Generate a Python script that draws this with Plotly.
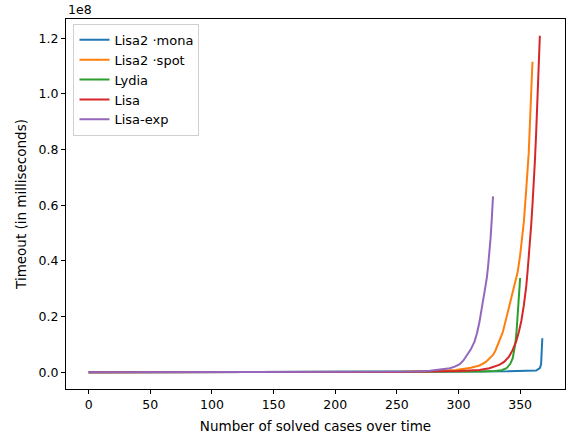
import plotly.graph_objects as go

# values in units of 1e8 milliseconds
mona_x = [0, 100, 200, 300, 340, 355, 363, 366, 367, 368]
mona_y = [0.0, 0.0, 0.0, 0.002, 0.003, 0.004, 0.006, 0.015, 0.028, 0.122]

spot_x = [0, 150, 250, 280, 298, 310, 317, 322, 325, 328, 330, 332, 334, 336, 338, 340,
          342, 344, 346, 348, 350, 352, 353, 355, 356, 357, 358, 359, 360]
spot_y = [0.0, 0.0, 0.001, 0.003, 0.008, 0.016, 0.024, 0.036, 0.048, 0.062, 0.078, 0.1, 0.122,
          0.145, 0.18, 0.215, 0.245, 0.28, 0.315, 0.36, 0.42, 0.5, 0.54, 0.66, 0.72, 0.79,
          0.9, 1.0, 1.116]

lydia_x = [0, 150, 250, 300, 320, 330, 335, 339, 342, 344, 345, 346, 347, 348, 349, 350]
lydia_y = [0.0, 0.0, 0.0, 0.001, 0.002, 0.004, 0.007, 0.014, 0.03, 0.05, 0.07, 0.1, 0.14,
           0.21, 0.28, 0.3385]

lisa_x = [0, 150, 250, 300, 317, 325, 333, 337, 341, 344, 347, 349, 351, 353, 354, 355, 356,
          357, 358, 359, 360, 361, 362, 363, 364, 365, 366]
lisa_y = [0.0, 0.0, 0.001, 0.004, 0.008, 0.014, 0.026, 0.037, 0.056, 0.08, 0.113, 0.145,
          0.185, 0.24, 0.27, 0.31, 0.36, 0.41, 0.47, 0.53, 0.6, 0.67, 0.76, 0.86, 0.98, 1.09,
          1.209]

exp_x = [0, 150, 250, 265, 277, 285, 293, 297, 301, 304, 307, 310, 313, 315, 317, 319, 320,
         321, 322, 323, 324, 325, 326, 327, 328]
exp_y = [0.0, 0.0, 0.001, 0.002, 0.005, 0.009, 0.014, 0.02, 0.029, 0.042, 0.06, 0.082, 0.11,
         0.14, 0.18, 0.225, 0.26, 0.285, 0.31, 0.34, 0.38, 0.42, 0.48, 0.55, 0.632]

names = ["Lisa2 \u00b7mona", "Lisa2 \u00b7spot", "Lydia", "Lisa", "Lisa-exp"]
colors = ["#1f77b4", "#ff7f0e", "#2ca02c", "#d62728", "#9467bd"]
series = [(mona_x, mona_y), (spot_x, spot_y), (lydia_x, lydia_y), (lisa_x, lisa_y), (exp_x, exp_y)]

x_ticks = [0, 50, 100, 150, 200, 250, 300, 350]
y_ticks = [0.0, 0.2, 0.4, 0.6, 0.8, 1.0, 1.2]

fig = go.Figure()
for (xs, ys), n, c in zip(series, names, colors):
    fig.add_trace(go.Scatter(x=xs, y=ys, mode="lines", name=n,
                             line=dict(color=c, width=2)))

tick_font = dict(family="DejaVu Sans", size=12.5, color="#000")
title_font = dict(family="DejaVu Sans", size=13.5, color="#000")
axis_common = dict(showline=True, linecolor="#000", linewidth=1, mirror=True,
                   ticks="outside", ticklen=4, tickwidth=1, tickcolor="#000",
                   showgrid=False, zeroline=False, tickfont=tick_font, automargin=False)

fig.update_layout(
    width=570, height=439,
    margin=dict(l=66, r=5, t=19, b=50),
    paper_bgcolor="white", plot_bgcolor="white",
    font=tick_font,
    xaxis=dict(range=[-18.4, 386.4], tickvals=x_ticks,
               title=dict(text="Number of solved cases over time", font=title_font, standoff=10),
               **axis_common),
    yaxis=dict(range=[-0.0605, 1.2695], tickvals=y_ticks, tickformat=".1f",
               title=dict(text="Timeout (in milliseconds)", font=title_font, standoff=8),
               **axis_common),
    legend=dict(x=0.015, y=0.987, xanchor="left", yanchor="top",
                bgcolor="rgba(255,255,255,0.8)", bordercolor="#d0d0d0", borderwidth=1,
                font=dict(family="DejaVu Sans", size=13, color="#000"),
                itemwidth=30, tracegroupgap=0),
    showlegend=True,
)
fig.add_annotation(text="1e8", xref="paper", yref="paper", x=0, y=1, xanchor="left",
                   yanchor="bottom", showarrow=False, font=tick_font, yshift=0)

fig.write_html("out.html", config={"displayModeBar": False},
               post_script="document.body.style.margin='0';document.body.style.overflow='hidden';")
